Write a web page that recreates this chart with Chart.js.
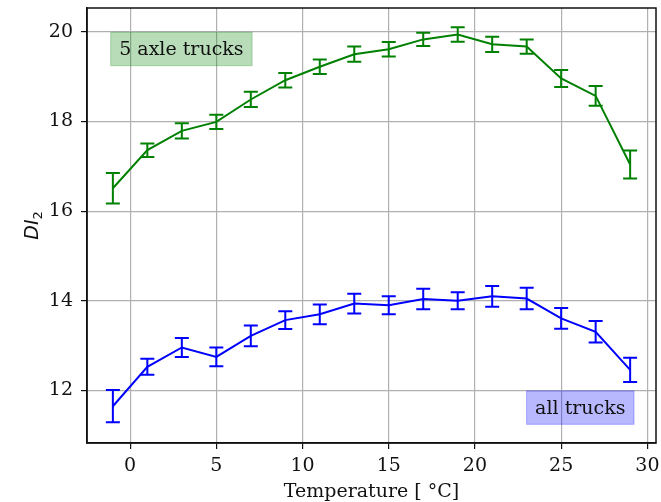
<!DOCTYPE html>
<html>
<head>
<meta charset="utf-8">
<script src="https://cdn.jsdelivr.net/npm/chart.js@4.4.1/dist/chart.umd.min.js"></script>
<style>
html,body{margin:0;padding:0;background:#fff;}
#c{display:block;}
</style>
</head>
<body>
<canvas id="c" width="661" height="502"></canvas>
<script>
const temps = [-1, 1, 3, 5, 7, 9, 11, 13, 15, 17, 19, 21, 23, 25, 27, 29];
const fiveAxle = [16.51, 17.36, 17.79, 17.99, 18.49, 18.92, 19.22, 19.50, 19.61, 19.83, 19.94, 19.72, 19.67, 18.96, 18.57, 17.04];
const fiveAxleErr = [0.34, 0.15, 0.17, 0.16, 0.17, 0.16, 0.16, 0.17, 0.16, 0.15, 0.16, 0.17, 0.16, 0.19, 0.22, 0.31];
const allTrucks = [11.65, 12.53, 12.96, 12.75, 13.22, 13.57, 13.70, 13.94, 13.90, 14.04, 14.00, 14.10, 14.05, 13.61, 13.31, 12.46];
const allTrucksErr = [0.36, 0.18, 0.21, 0.21, 0.23, 0.20, 0.22, 0.22, 0.20, 0.23, 0.19, 0.23, 0.24, 0.23, 0.24, 0.27];
const xTicks = [0, 5, 10, 15, 20, 25, 30];
const yTicks = [12, 14, 16, 18, 20];
const seriesLabels = ['5 axle trucks', 'all trucks'];
const xTitle = 'Temperature [ °C]';

const SERIF = '"DejaVu Serif", serif';
const GREEN = '#008000';
const BLUE = '#0000ff';
const FS = 19;

const errorBars = {
  id: 'errorBars',
  afterDatasetsDraw(chart) {
    const ctx = chart.ctx;
    const xs = chart.scales.x, ys = chart.scales.y;
    chart.data.datasets.forEach(ds => {
      const errs = ds.errors;
      if (!errs) return;
      ctx.save();
      ctx.strokeStyle = ds.borderColor;
      ctx.lineWidth = 2;
      ds.data.forEach((p, i) => {
        const px = xs.getPixelForValue(p.x);
        const top = ys.getPixelForValue(p.y + errs[i]);
        const bot = ys.getPixelForValue(p.y - errs[i]);
        ctx.beginPath();
        ctx.moveTo(px, top); ctx.lineTo(px, bot);
        ctx.moveTo(px - 7, top); ctx.lineTo(px + 7, top);
        ctx.moveTo(px - 7, bot); ctx.lineTo(px + 7, bot);
        ctx.stroke();
      });
      ctx.restore();
    });
  }
};

const decorations = {
  id: 'decorations',
  afterDraw(chart) {
    const ctx = chart.ctx;
    const a = chart.chartArea;
    ctx.save();
    // frame
    ctx.strokeStyle = '#111';
    ctx.lineWidth = 1.5;
    ctx.strokeRect(a.left, a.top, a.right - a.left, a.bottom - a.top);

    // label boxes
    ctx.font = FS + 'px ' + SERIF;
    ctx.textBaseline = 'middle';
    ctx.textAlign = 'left';
    const pad = 8.5, h = 33.4;
    // green box (top-left)
    let w = ctx.measureText(seriesLabels[0]).width + 2 * pad;
    let bx = a.left + 23.7, by = a.top + 24.3;
    ctx.fillStyle = 'rgba(0,128,0,0.28)';
    ctx.fillRect(bx, by, w, h);
    ctx.strokeStyle = 'rgba(0,128,0,0.28)';
    ctx.lineWidth = 1;
    ctx.strokeRect(bx, by, w, h);
    ctx.fillStyle = '#111';
    ctx.fillText(seriesLabels[0], bx + pad, by + h / 2 + 1);
    // blue box (bottom-right)
    w = ctx.measureText(seriesLabels[1]).width + 2 * pad;
    bx = a.right - 22 - w; by = a.bottom - 18.7 - h;
    ctx.fillStyle = 'rgba(0,0,255,0.28)';
    ctx.fillRect(bx, by, w, h);
    ctx.strokeStyle = 'rgba(0,0,255,0.28)';
    ctx.strokeRect(bx, by, w, h);
    ctx.fillStyle = '#111';
    ctx.fillText(seriesLabels[1], bx + pad, by + h / 2 + 1);

    // x title
    ctx.textAlign = 'center';
    ctx.textBaseline = 'alphabetic';
    ctx.font = FS + 'px ' + SERIF;
    ctx.fillText(xTitle, (a.left + a.right) / 2, 497);

    // y title: D I with subscript 2, rotated
    ctx.translate(38, (a.top + a.bottom) / 2);
    ctx.rotate(-Math.PI / 2);
    ctx.font = 'italic 19px "DejaVu Sans", sans-serif';
    const main = 'DI';
    const wm = ctx.measureText(main).width;
    ctx.font = '13px "DejaVu Sans", sans-serif';
    const ws = ctx.measureText('2').width;
    const total = wm + ws;
    ctx.textAlign = 'left';
    ctx.font = 'italic 19px "DejaVu Sans", sans-serif';
    ctx.fillText(main, -total / 2, 0);
    ctx.font = '13px "DejaVu Sans", sans-serif';
    ctx.fillText('2', -total / 2 + wm, 4);
    ctx.restore();
  }
};

new Chart(document.getElementById('c'), {
  type: 'line',
  data: {
    datasets: [
      {
        label: seriesLabels[0],
        data: temps.map((t, i) => ({ x: t, y: fiveAxle[i] })),
        errors: fiveAxleErr,
        borderColor: GREEN,
        backgroundColor: GREEN,
        borderWidth: 2,
        pointRadius: 0,
        tension: 0,
        fill: false
      },
      {
        label: seriesLabels[1],
        data: temps.map((t, i) => ({ x: t, y: allTrucks[i] })),
        errors: allTrucksErr,
        borderColor: BLUE,
        backgroundColor: BLUE,
        borderWidth: 2,
        pointRadius: 0,
        tension: 0,
        fill: false
      }
    ]
  },
  options: {
    responsive: false,
    animation: false,
    devicePixelRatio: 1,
    layout: { padding: { left: 0, top: 8, right: 5, bottom: 0 } },
    plugins: { legend: { display: false }, tooltip: { enabled: false } },
    scales: {
      x: {
        type: 'linear',
        min: -2.5,
        max: 30.5,
        afterBuildTicks: s => { s.ticks = xTicks.map(v => ({ value: v })); },
        afterFit: s => { s.height = 59; s.paddingLeft = 0; s.paddingRight = 0; },
        grid: { color: '#b0b0b0', lineWidth: 1.2, tickColor: '#111', tickLength: 6, tickWidth: 1.2 },
        border: { display: true, color: '#111', width: 1.5 },
        ticks: { font: { family: SERIF, size: FS }, color: '#111', padding: 6, maxRotation: 0 }
      },
      y: {
        type: 'linear',
        min: 10.83,
        max: 20.53,
        afterBuildTicks: s => { s.ticks = yTicks.map(v => ({ value: v })); },
        afterFit: s => { s.width = 87; s.paddingTop = 0; s.paddingBottom = 0; },
        grid: { color: '#b0b0b0', lineWidth: 1.2, tickColor: '#111', tickLength: 6, tickWidth: 1.2 },
        border: { display: true, color: '#111', width: 1.5 },
        ticks: { font: { family: SERIF, size: FS }, color: '#111', padding: 8 }
      }
    }
  },
  plugins: [errorBars, decorations]
});
</script>
</body>
</html>
